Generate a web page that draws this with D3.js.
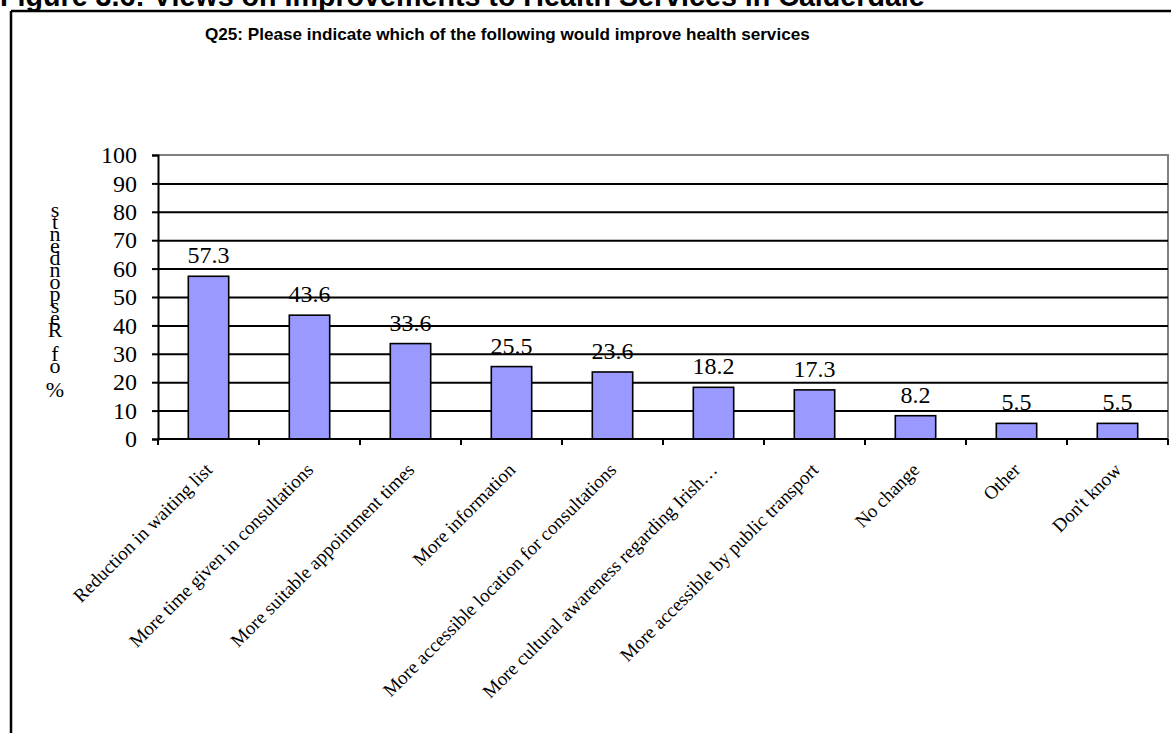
<!DOCTYPE html>
<html>
<head>
<meta charset="utf-8">
<script src="https://cdn.jsdelivr.net/npm/d3@7"></script>
<style>
  html, body { margin: 0; padding: 0; background: #fff; }
  svg { display: block; }
</style>
</head>
<body>
<svg id="chart" width="1171" height="733"></svg>
<script>
// Survey responses, Q25 (% of respondents)
const categories = [
  "Reduction in waiting list",
  "More time given in consultations",
  "More suitable appointment times",
  "More information",
  "More accessible location for consultations",
  "More cultural awareness regarding Irish\u2026",
  "More accessible by public transport",
  "No change",
  "Other",
  "Don't know"
];
const values = [57.3, 43.6, 33.6, 25.5, 23.6, 18.2, 17.3, 8.2, 5.5, 5.5];
const yTicks = [0, 10, 20, 30, 40, 50, 60, 70, 80, 90, 100];

const figureTitle = "Figure 3.6: Views on Improvements to Health Services in Calderdale";
const chartTitle = "Q25: Please indicate which of the following would improve health services";
const yAxisTitle = "% of Respondents";

const svg = d3.select("#chart");
const serif = "'Liberation Serif', 'Times New Roman', serif";
const sans = "'Liberation Sans', Arial, sans-serif";

const plot = { left: 158, right: 1168, top: 155, bottom: 439 };

const x = d3.scaleBand()
  .domain(categories)
  .range([plot.left, plot.right])
  .paddingInner(0.6)
  .paddingOuter(0.3);

const y = d3.scaleLinear()
  .domain([0, 100])
  .range([plot.bottom, plot.top]);

// Figure heading (partly cut off by the page top)
const fig = svg.append("text")
  .attr("x", 0).attr("y", 6)
  .attr("font-family", sans).attr("font-weight", "bold")
  .attr("font-size", 20)
  .text(figureTitle);
const figW = fig.node().getComputedTextLength();
fig.attr("font-size", 20 * 925 / figW);

// Outer frame
svg.append("line").attr("x1", 11).attr("x2", 1171).attr("y1", 11).attr("y2", 11)
  .attr("stroke", "#000").attr("stroke-width", 2.5);
svg.append("line").attr("x1", 11).attr("x2", 11).attr("y1", 11).attr("y2", 733)
  .attr("stroke", "#000").attr("stroke-width", 2.5);

// Chart title
const sub = svg.append("text")
  .attr("x", 205).attr("y", 40)
  .attr("font-family", sans).attr("font-weight", "bold")
  .attr("font-size", 12)
  .text(chartTitle);
const subW = sub.node().getComputedTextLength();
sub.attr("font-size", 12 * 605 / subW);

// Plot area border (grey) on top and right
svg.append("path")
  .attr("d", `M${plot.left},${plot.top}H${plot.right}V${plot.bottom}`)
  .attr("fill", "none").attr("stroke", "#808080").attr("stroke-width", 2);

// Horizontal gridlines
svg.append("g")
  .attr("transform", `translate(${plot.left},0)`)
  .call(d3.axisLeft(y).tickValues(yTicks.filter(t => t > 0 && t < 100))
    .tickSize(-(plot.right - plot.left)).tickFormat(""))
  .call(g => g.select(".domain").remove())
  .call(g => g.selectAll("line").attr("stroke", "#000").attr("stroke-width", 2));

// Bars
svg.append("g").selectAll("rect")
  .data(values)
  .join("rect")
  .attr("x", (d, i) => x(categories[i]))
  .attr("width", x.bandwidth())
  .attr("y", d => y(d))
  .attr("height", d => y(0) - y(d))
  .attr("fill", "#9999FF")
  .attr("stroke", "#000").attr("stroke-width", 1.6);

// Value labels
svg.append("g").selectAll("text")
  .data(values)
  .join("text")
  .attr("x", (d, i) => x(categories[i]) + x.bandwidth() / 2)
  .attr("y", d => y(d) - 13)
  .attr("text-anchor", "middle")
  .attr("font-family", serif).attr("font-size", 24)
  .text(d => d.toFixed(1));

// Y axis
svg.append("g")
  .attr("transform", `translate(${plot.left},0)`)
  .call(d3.axisLeft(y).tickValues(yTicks).tickSize(6).tickPadding(15).tickFormat(d3.format("d")))
  .call(g => g.select(".domain").attr("stroke", "#000").attr("stroke-width", 2))
  .call(g => g.selectAll(".tick line").attr("stroke", "#000").attr("stroke-width", 2))
  .call(g => g.selectAll(".tick text")
    .attr("font-family", serif).attr("font-size", 24).attr("fill", "#000"));

// X axis baseline with tick marks between categories
const xAxis = svg.append("g");
xAxis.append("line")
  .attr("x1", plot.left).attr("x2", plot.right)
  .attr("y1", y(0)).attr("y2", y(0))
  .attr("stroke", "#000").attr("stroke-width", 2);
const boundaries = categories.map((c, i) => plot.left + i * x.step());
boundaries.push(plot.right);
xAxis.selectAll("line.tick")
  .data(boundaries)
  .join("line")
  .attr("class", "tick")
  .attr("x1", d => d).attr("x2", d => d)
  .attr("y1", y(0)).attr("y2", y(0) + 6)
  .attr("stroke", "#000").attr("stroke-width", 2);

// Category labels, rotated
xAxis.selectAll("text")
  .data(categories)
  .join("text")
  .attr("transform", c => `translate(${x(c) + x.bandwidth() / 2 + 5},${y(0) + 32}) rotate(-45)`)
  .attr("text-anchor", "end")
  .attr("font-family", serif).attr("font-size", 19)
  .text(c => c);

// Y axis title: characters stacked one above another
const yt = svg.append("text")
  .attr("font-family", serif).attr("font-size", 22)
  .attr("text-anchor", "middle");
const chars = yAxisTitle.split("").reverse();
chars.forEach((ch, i) => {
  yt.append("tspan")
    .attr("x", 55)
    .attr("y", 217 + i * 12)
    .text(ch === " " ? "\u00a0" : ch);
});
</script>
</body>
</html>
